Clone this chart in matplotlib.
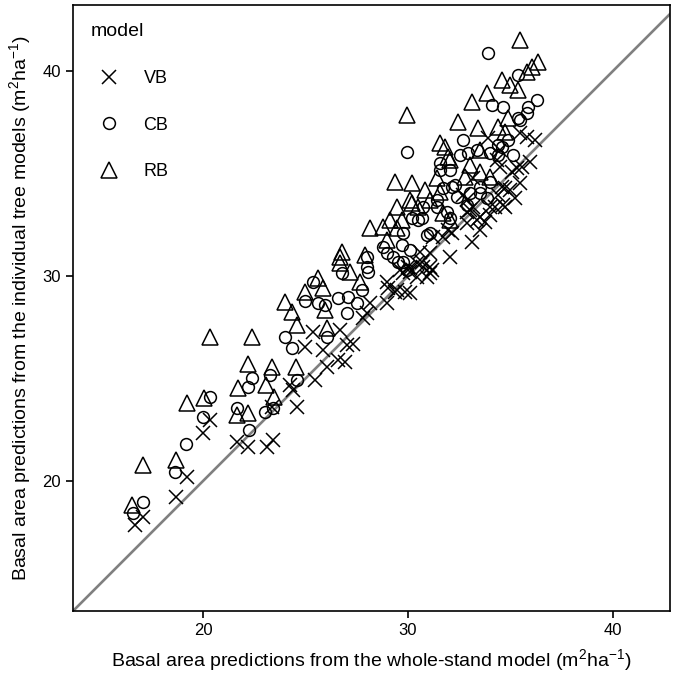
import matplotlib
matplotlib.use("Agg")
import matplotlib.pyplot as plt

plt.rcParams['font.family'] = ['Liberation Sans', 'DejaVu Sans']
plt.rcParams['mathtext.fontset'] = 'custom'
plt.rcParams['mathtext.rm'] = 'Liberation Sans'
plt.rcParams['mathtext.it'] = 'Liberation Sans:italic'

# whole-stand prediction (x) and individual tree model prediction (y)
vb_x = [16.68, 17.07, 18.68, 19.22, 20.0, 20.34, 21.66, 22.2, 23.12, 23.42,
        24.59, 24.25, 24.39, 25.46, 26.05, 26.59, 26.93, 27.05, 27.32, 25.0,
        25.37, 25.86, 23.37, 26.68, 28.0, 27.81, 28.15, 29.0, 28.98, 29.46,
        30.1, 30.44, 30.1, 30.73, 29.03, 29.37, 29.85, 30.93, 31.07, 31.71,
        31.95, 32.05, 30.59, 30.1, 29.61, 31.17, 33.12, 33.51, 33.37, 33.76,
        34.0, 33.17, 32.88, 34.25, 34.64, 34.59, 34.98, 35.22, 35.47, 35.32,
        35.95, 35.81, 36.2, 33.9, 35.47, 34.34,
        34.49, 35.56, 34.49, 35.07, 34.73, 34.39, 34.0, 34.73, 33.51, 33.03,
        32.88, 32.15, 31.22, 31.07, 30.68, 30.0, 31.07, 30.44, 29.76, 32.88,
        33.17, 32.68]
vb_y = [17.85, 18.25, 19.22, 20.2, 22.34, 22.98, 21.9, 21.66, 21.66, 22.0,
        23.61, 24.68, 24.44, 24.93, 25.56, 25.9, 25.81, 26.63, 26.68, 26.54,
        27.27, 26.39, 23.61, 27.37, 28.2, 27.95, 28.68, 28.7, 29.71, 29.32,
        29.17, 30.63, 30.2, 30.44, 29.42, 29.22, 29.22, 29.95, 30.44, 31.9,
        32.25, 30.93, 31.17, 30.39, 30.29, 30.29, 31.66, 32.25, 32.73, 32.63,
        32.98, 33.37, 33.12, 33.37, 33.46, 34.34, 34.2, 33.81, 34.54, 35.27,
        35.56, 36.78, 36.64, 36.73, 36.98, 35.66,
        36.15, 35.32, 35.32, 35.07, 34.29, 33.95, 33.37, 33.37, 32.88, 33.22,
        32.59, 32.1, 31.9, 31.12, 30.68, 30.44, 30.15, 29.95, 30.15, 33.71,
        34.78, 33.95]

cb_x = [16.59, 17.07, 18.64, 19.17, 20.0, 20.34, 21.66, 22.25, 22.2, 22.39,
        23.03, 23.42, 23.27, 24.0, 24.34, 24.59, 25.95, 24.98, 25.37, 25.61,
        26.05, 27.03, 26.78, 27.07, 28.0, 28.0, 28.98, 27.51, 28.05, 26.59,
        27.76, 29.51, 29.95, 30.49, 31.07, 31.42, 31.9, 29.71, 30.1, 28.78,
        33.9, 35.37, 36.3, 35.86, 35.81, 34.64, 34.1, 35.47, 32.68, 34.88,
        34.59, 31.56, 32.54, 33.37, 34.0, 35.12, 34.39, 32.05, 34.0, 33.51,
        32.15, 31.42, 29.95,
        32.93, 34.39, 35.37, 31.56, 31.71, 32.3, 33.03, 33.51, 32.88, 30.73,
        30.2, 30.68, 32.05, 29.76, 30.93, 29.76, 29.27, 32.39, 33.85]
cb_y = [18.44, 18.98, 20.44, 21.8, 23.12, 24.1, 23.56, 22.49, 24.59, 25.03,
        23.37, 23.56, 25.17, 27.03, 26.49, 24.93, 28.59, 28.8, 29.71, 28.68,
        27.03, 28.2, 30.15, 28.98, 30.93, 30.44, 31.12, 28.68, 30.2, 28.93,
        29.32, 30.68, 30.29, 32.73, 32.1, 33.37, 33.12, 31.51, 31.27, 31.42,
        40.88, 39.81, 38.59, 38.25, 37.95, 38.25, 38.34, 37.61, 36.64, 36.64,
        36.29, 35.51, 35.9, 36.15, 36.0, 35.9, 35.9, 35.17, 34.59, 34.05,
        34.34, 33.71, 36.05,
        36.0, 36.39, 37.71, 35.17, 34.29, 34.44, 34.05, 34.34, 33.46, 33.37,
        32.83, 32.83, 32.83, 32.1, 32.0, 30.68, 30.93, 33.85, 33.81]

rb_x = [16.54, 17.07, 18.68, 19.22, 20.05, 20.34, 21.66, 21.71, 22.2, 22.2,
        22.39, 23.07, 23.37, 23.46, 24.0, 24.34, 24.59, 24.54, 24.98, 25.61,
        25.86, 26.05, 25.95, 26.68, 26.68, 27.17, 27.66, 28.15, 26.78, 27.9,
        28.78, 29.12, 28.98, 29.71, 30.2, 29.46, 29.95, 29.37, 30.2, 31.56,
        31.95, 32.44, 33.12, 33.42, 33.85, 34.39, 34.88, 34.73, 34.59, 34.98,
        35.37, 35.47, 36.34, 36.05, 35.81,
        31.81, 32.05, 30.83, 31.42, 31.56, 31.07, 30.1, 29.46, 30.49, 31.71,
        32.05, 33.51, 33.03, 33.51, 34.0, 32.78]
rb_y = [18.83, 20.78, 21.02, 23.8, 24.05, 27.03, 23.22, 24.54, 23.32, 25.71,
        27.03, 24.68, 25.56, 24.1, 28.73, 28.25, 27.61, 25.56, 29.22, 29.9,
        29.42, 27.46, 28.34, 30.93, 30.63, 30.2, 29.71, 32.34, 31.17, 31.03,
        32.39, 32.73, 31.76, 32.73, 33.56, 32.34, 37.85, 34.59, 34.54, 36.49,
        35.8, 37.51, 38.49, 37.22, 38.93, 37.27, 37.71, 37.03, 39.56, 39.32,
        39.07, 41.51, 40.44, 40.2, 39.95,
        36.29, 35.66, 34.2, 34.78, 34.1, 33.71, 33.71, 33.37, 33.37, 33.07,
        32.73, 36.15, 35.41, 35.07, 34.83, 34.83]

x_ticks = [20, 30, 40]
y_ticks = [20, 30, 40]

fig = plt.figure(figsize=(6.85, 6.78), dpi=100)
ax = fig.add_axes([0.1066, 0.0988, 0.8714, 0.8938])

ax.axline((20, 20), slope=1, color='#808080', lw=1.9, zorder=1)

mk = dict(linestyle='none', color='black', markerfacecolor='none', markeredgewidth=1.1, zorder=2)
ax.plot(vb_x, vb_y, marker='x', markersize=9.5, label='VB', **mk)
ax.plot(cb_x, cb_y, marker='o', markersize=8.5, label='CB', **mk)
ax.plot(rb_x, rb_y, marker='^', markersize=11, label='RB', **mk)

ax.set_xlim(13.66, 42.78)
ax.set_ylim(13.66, 43.22)
ax.set_xticks(x_ticks)
ax.set_yticks(y_ticks)
ax.tick_params(direction='out', length=5, width=1.2, labelsize=12, colors='black')
for s in ax.spines.values():
    s.set_linewidth(1.2)

ax.set_xlabel('Basal area predictions from the whole-stand model (m$^2$ha$^{-1}$)', fontsize=14, labelpad=7)
ax.set_ylabel('Basal area predictions from the individual tree models (m$^2$ha$^{-1}$)', fontsize=14, labelpad=7)

leg = ax.legend(loc='upper left', frameon=False, title='model', title_fontsize=14,
                fontsize=13, labelspacing=1.65, handletextpad=0.9, borderpad=0.5,
                alignment='left')

fig.savefig('out.png', dpi=100)
